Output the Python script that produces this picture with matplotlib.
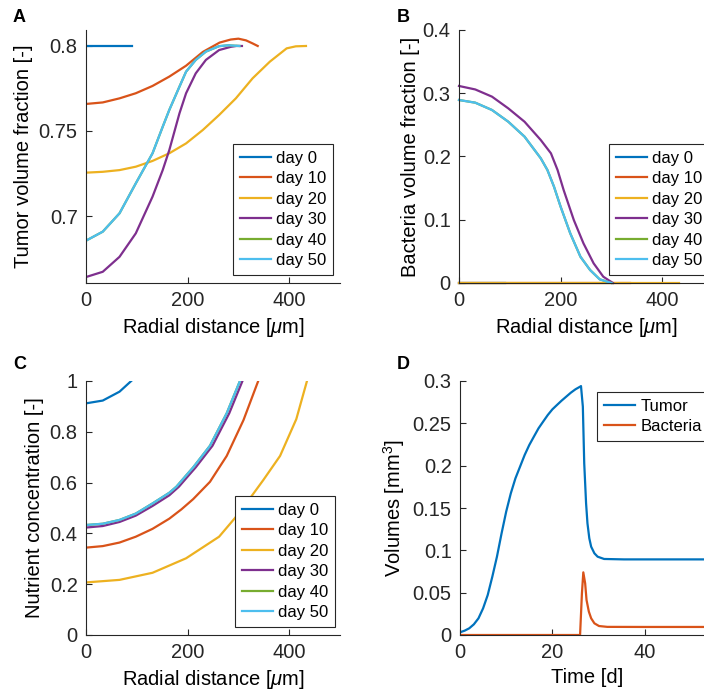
import numpy as np
import matplotlib.pyplot as plt

plt.rcParams['font.family'] = ['Liberation Sans', 'DejaVu Sans']
plt.rcParams['mathtext.fontset'] = 'custom'
plt.rcParams['mathtext.it'] = 'Liberation Sans:italic'
plt.rcParams['mathtext.rm'] = 'Liberation Sans'

colors = ['#0072BD', '#D95319', '#EDB120', '#7E2F8E', '#77AC30', '#4DBEEE']
days = ['day 0', 'day 10', 'day 20', 'day 30', 'day 40', 'day 50']

# panel A: tumor volume fraction vs radius (day 40 lies under day 50)
tumor_r = [
    [0, 45, 90],
    [0, 33, 66, 98, 131, 164, 197, 230, 263, 285, 300, 315, 328, 338],
    [0, 33, 66, 98, 131, 164, 197, 230, 262, 295, 328, 362, 395, 413, 433],
    [0, 33, 66, 98, 131, 151, 164, 184, 197, 216, 236, 262, 285, 296, 307],
    [0, 33, 66, 98, 131, 151, 164, 184, 197, 216, 236, 262, 280, 302],
    [0, 33, 66, 98, 131, 151, 164, 184, 197, 216, 236, 262, 280, 302],
]
tumor_v = [
    [0.8, 0.8, 0.8],
    [0.7659, 0.7668, 0.7692, 0.7722, 0.7765, 0.782, 0.7884, 0.7965, 0.802,
     0.8038, 0.8043, 0.8033, 0.8015, 0.8],
    [0.7255, 0.726, 0.727, 0.729, 0.7324, 0.7369, 0.7427, 0.7506, 0.7594,
     0.7692, 0.781, 0.7908, 0.7986, 0.7998, 0.8],
    [0.6641, 0.6672, 0.676, 0.6898, 0.7114, 0.727, 0.7388, 0.7604, 0.7722,
     0.7839, 0.7918, 0.7976, 0.7995, 0.8, 0.8],
    [0.6855, 0.6908, 0.7016, 0.7192, 0.7369, 0.7525, 0.7624, 0.7761, 0.7849,
     0.7918, 0.7967, 0.7999, 0.8004, 0.8],
    [0.6855, 0.6908, 0.7016, 0.7192, 0.7369, 0.7525, 0.7624, 0.7761, 0.7849,
     0.7918, 0.7967, 0.7999, 0.8004, 0.8],
]

# panel B: bacteria volume fraction vs radius
bact_r = [
    [0, 91],
    [0, 337],
    [0, 434],
    [0, 32, 65, 97, 129, 161, 181, 194, 206, 226, 245, 265, 284, 303],
    [0, 32, 65, 97, 129, 161, 174, 187, 200, 219, 239, 258, 277, 300],
    [0, 32, 65, 97, 129, 161, 174, 187, 200, 219, 239, 258, 277, 300],
]
bact_v = [
    [0, 0],
    [0, 0],
    [0, 0],
    [0.3115, 0.306, 0.2946, 0.2761, 0.255, 0.226, 0.205, 0.1787, 0.147,
     0.0996, 0.0627, 0.0311, 0.010, 0.0],
    [0.2893, 0.2851, 0.2735, 0.255, 0.2314, 0.1971, 0.1787, 0.1523, 0.1207,
     0.0785, 0.0416, 0.0206, 0.0058, 0.0],
    [0.2893, 0.2851, 0.2735, 0.255, 0.2314, 0.1971, 0.1787, 0.1523, 0.1207,
     0.0785, 0.0416, 0.0206, 0.0058, 0.0],
]

# panel C: nutrient concentration vs radius
nutr_r = [
    [0, 33, 66, 89],
    [0, 33, 66, 98, 131, 164, 188, 211, 244, 277, 310, 339],
    [0, 66, 131, 197, 262, 293, 326, 349, 382, 414, 435],
    [0, 33, 66, 98, 131, 164, 183, 202, 216, 249, 282, 308],
    [0, 33, 66, 98, 131, 164, 178, 197, 211, 244, 277, 303],
    [0, 33, 66, 98, 131, 164, 178, 197, 211, 244, 277, 303],
]
nutr_v = [
    [0.912, 0.923, 0.958, 1.0],
    [0.344, 0.350, 0.364, 0.387, 0.418, 0.458, 0.495, 0.535, 0.603, 0.705,
     0.846, 1.0],
    [0.207, 0.217, 0.245, 0.302, 0.387, 0.46, 0.547, 0.61, 0.705, 0.85,
     1.0],
    [0.423, 0.429, 0.445, 0.470, 0.508, 0.550, 0.584, 0.628, 0.660, 0.745,
     0.873, 1.0],
    [0.433, 0.438, 0.453, 0.478, 0.518, 0.560, 0.584, 0.628, 0.660, 0.745,
     0.873, 1.0],
    [0.433, 0.438, 0.453, 0.478, 0.518, 0.560, 0.584, 0.628, 0.660, 0.745,
     0.873, 1.0],
]

# panel D: total volumes over time
t_tumor = [0, 1, 2, 3, 4, 5, 6, 7, 8, 9, 10, 11, 12, 13, 14, 15, 16, 17, 18,
           19, 20, 21, 22, 23, 24, 25, 26, 26.2, 26.6, 26.9, 27.3, 27.6, 28.0,
           28.4, 29.1, 29.8, 31.2, 35.5, 45, 55]
v_tumor = [0.0032, 0.0051, 0.0079, 0.0126, 0.0197, 0.0315, 0.0472, 0.0689,
           0.0925, 0.120, 0.1457, 0.1673, 0.185, 0.1988, 0.2126, 0.2244,
           0.2343, 0.2441, 0.252, 0.2598, 0.2665, 0.2717, 0.2768, 0.2815,
           0.2862, 0.2902, 0.2933, 0.294, 0.2697, 0.2028, 0.1555, 0.1319,
           0.1142, 0.1043, 0.0965, 0.0925, 0.0898, 0.0893, 0.0893, 0.0893]
t_bact = [0, 26.0, 26.4, 26.7, 27.1, 27.4, 27.9, 28.4, 29.1, 30.1, 31.9, 40,
          55]
v_bact = [0, 0, 0.049, 0.074, 0.061, 0.0413, 0.0276, 0.0197, 0.0138, 0.0106,
          0.0096, 0.0095, 0.0095]

W, H = 704, 694
fig = plt.figure(figsize=(W / 100, H / 100), dpi=100)
fs = 14.5


def make_ax(x0, y0, x1, y1):
    ax = fig.add_axes([x0 / W, 1 - y1 / H, (x1 - x0) / W, (y1 - y0) / H])
    for s in ['top', 'right']:
        ax.spines[s].set_visible(False)
    for s in ['left', 'bottom']:
        ax.spines[s].set_color('#262626')
        ax.spines[s].set_linewidth(0.8)
    ax.tick_params(direction='in', labelsize=fs, colors='#262626', length=4,
                   width=0.8, pad=6)
    return ax


def legend(ax, x, y):
    leg = ax.legend(loc='upper left', bbox_to_anchor=(x, y), fontsize=12,
                    fancybox=False, framealpha=1, edgecolor='#262626',
                    handlelength=1.9, labelspacing=0.33, borderpad=0.4,
                    handletextpad=0.3, borderaxespad=0)
    leg.get_frame().set_linewidth(0.8)


lw = 1.6
rlabel = r'Radial distance [$\mu$m]'

# A
ax = make_ax(86, 30, 340, 283)
for r, v, c, d in zip(tumor_r, tumor_v, colors, days):
    ax.plot(r, v, color=c, lw=lw, label=d)
ax.set_xlim(0, 500)
ax.set_ylim(0.6606, 0.8094)
ax.set_xticks([0, 200, 400])
ax.set_yticks([0.7, 0.75, 0.8])
ax.set_yticklabels(['0.7', '0.75', '0.8'])
ax.set_xlabel(rlabel, fontsize=fs)
ax.set_ylabel('Tumor volume fraction [-]', fontsize=fs)
legend(ax, 0.579, 0.549)
fig.text(13 / W, 1 - 22 / H, 'A', fontsize=13, fontweight='bold')

# B
ax = make_ax(459, 30, 713, 283)
for r, v, c, d in zip(bact_r, bact_v, colors, days):
    ax.plot(r, v, color=c, lw=lw, label=d, clip_on=False)
ax.set_xlim(0, 500)
ax.set_ylim(0, 0.4)
ax.set_xticks([0, 200, 400])
ax.set_yticks([0, 0.1, 0.2, 0.3, 0.4])
ax.set_yticklabels(['0', '0.1', '0.2', '0.3', '0.4'])
ax.set_xlabel(rlabel, fontsize=fs)
ax.set_ylabel('Bacteria volume fraction [-]', fontsize=fs, labelpad=2)
legend(ax, 0.591, 0.549)
fig.text(397 / W, 1 - 22 / H, 'B', fontsize=13, fontweight='bold')

# C
ax = make_ax(86, 381, 340, 635)
for r, v, c, d in zip(nutr_r, nutr_v, colors, days):
    ax.plot(r, v, color=c, lw=lw, label=d)
ax.set_xlim(0, 500)
ax.set_ylim(0, 1)
ax.set_xticks([0, 200, 400])
ax.set_yticks([0, 0.2, 0.4, 0.6, 0.8, 1])
ax.set_yticklabels(['0', '0.2', '0.4', '0.6', '0.8', '1'])
ax.set_xlabel(rlabel, fontsize=fs)
ax.set_ylabel('Nutrient concentration [-]', fontsize=fs)
legend(ax, 0.587, 0.547)
fig.text(13 / W, 1 - 369 / H, 'C', fontsize=13, fontweight='bold')

# D
ax = make_ax(460, 381, 714, 635)
ax.plot(t_tumor, v_tumor, color=colors[0], lw=lw, label='Tumor')
ax.plot(t_bact, v_bact, color=colors[1], lw=lw, label='Bacteria')
ax.set_xlim(0, 55)
ax.set_ylim(0, 0.3)
ax.set_xticks([0, 20, 40])
ax.set_yticks([0, 0.05, 0.1, 0.15, 0.2, 0.25, 0.3])
ax.set_yticklabels(['0', '0.05', '0.1', '0.15', '0.2', '0.25', '0.3'])
ax.set_xlabel('Time [d]', fontsize=fs)
ax.set_ylabel(r'Volumes [mm$^3$]', fontsize=fs)
legend(ax, 0.539, 0.957)
fig.text(397 / W, 1 - 369 / H, 'D', fontsize=13, fontweight='bold')

fig.savefig('out.png', dpi=100)
